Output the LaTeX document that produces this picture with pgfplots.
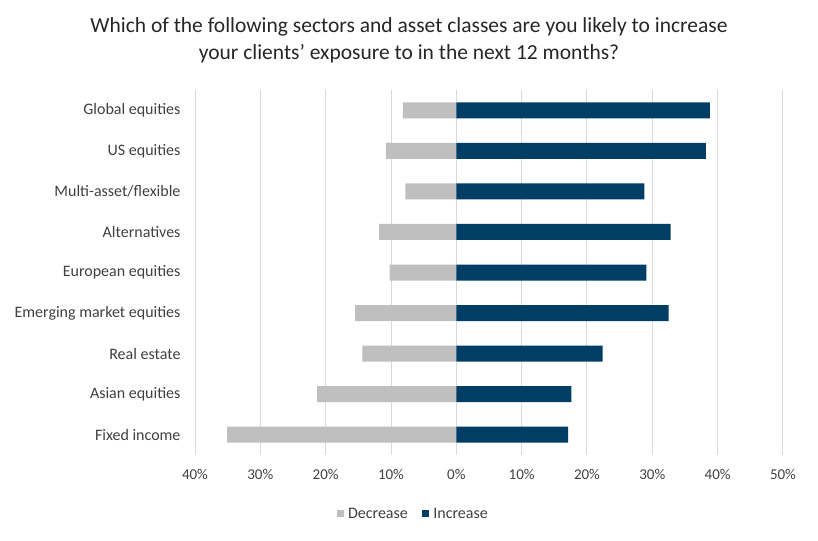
\documentclass[border=0pt]{standalone}
\usepackage{pgfplots}
\pgfplotsset{compat=1.18}
\usepackage{fontspec}
\setmainfont{Carlito}

\definecolor{incblue}{RGB}{0,62,102}
\definecolor{decgray}{RGB}{191,191,191}
\definecolor{gridgray}{RGB}{217,217,217}
\definecolor{txtgray}{RGB}{64,64,64}

\begin{document}
\begin{tikzpicture}[x=1pt,y=1pt]
\useasboundingbox (0,0) rectangle (818,540);
\node[font=\fontsize{21.5}{27}\selectfont, text=black!85, align=center] at (409,499.5)
  {Which of the following sectors and asset classes are you likely to increase\\
   your clients’ exposure to in the next 12 months?};
\begin{axis}[
    at={(195pt,85pt)}, anchor=south west,
    scale only axis,
    width=588pt, height=365pt,
    xbar, bar width=16pt,
    xmin=-40, xmax=50,
    ymin=-0.5, ymax=8.5,
    y dir=reverse,
    xtick={-40,-30,...,50},
    xticklabels={40\%,30\%,20\%,10\%,0\%,10\%,20\%,30\%,40\%,50\%},
    ytick={0,...,8},
    yticklabels={Global equities, US equities, Multi-asset/flexible, Alternatives,
      European equities, Emerging market equities, Real estate, Asian equities, Fixed income},
    xmajorgrids, major grid style={gridgray, line width=1pt},
    axis line style={draw=none},
    major tick length=0pt,
    tick label style={text=txtgray},
    xticklabel style={font=\fontsize{15}{17}\selectfont, yshift=-11pt},
    yticklabel style={font=\fontsize{16}{18}\selectfont, xshift=-11pt},
    legend style={at={(0.371,-0.1616)}, anchor=center, draw=none,
      legend columns=2, font=\fontsize{16}{18}\selectfont, text=txtgray,
      /tikz/every odd column/.append style={column sep=2pt},
      /tikz/every even column/.append style={column sep=12pt}},
    legend image code/.code={\fill[#1] (0pt,-3.5pt) rectangle (7.5pt,4pt);},
]
\addplot[fill=decgray, draw=none, bar shift=0pt] coordinates {
  (-8.2,0) (-10.8,1) (-7.8,2) (-11.8,3) (-10.2,4)
  (-15.5,5) (-14.4,6) (-21.3,7) (-35.1,8)};
\addplot[fill=incblue, draw=none, bar shift=0pt] coordinates {
  (38.8,0) (38.2,1) (28.8,2) (32.8,3) (29.1,4)
  (32.5,5) (22.4,6) (17.6,7) (17.1,8)};
\legend{Decrease, Increase}
\end{axis}
\end{tikzpicture}
\end{document}
